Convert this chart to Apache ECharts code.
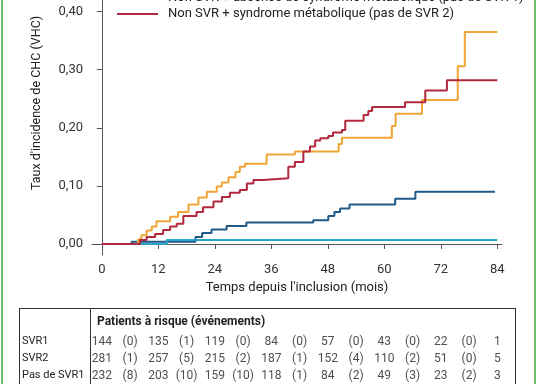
<!DOCTYPE html>
<html><head><meta charset="utf-8">
<script src="https://cdn.jsdelivr.net/npm/echarts@6/dist/echarts.min.js"></script>
<style>html,body{margin:0;padding:0;background:#fff}#c{width:538px;height:384px}</style>
</head><body><div id="c"></div><script>
// ---- data ----
const xTicks = [0, 12, 24, 36, 48, 60, 72, 84];
const yTicks = [0, 0.1, 0.2, 0.3, 0.4];
const svr1T = [0, 13.8, 84];
const svr1V = [0, 0.007, 0.007];
const svr2T = [0, 6.3, 19.9, 21.3, 23.3, 26.5, 30.7, 44.9, 48.1, 49.4, 50.6, 52.6, 62.3, 66.6, 83.5];
const svr2V = [0, 0.004, 0.012, 0.019, 0.025, 0.031, 0.037, 0.041, 0.048, 0.055, 0.061, 0.068, 0.078, 0.090, 0.090];
const pas1T = [0, 7.7, 8.4, 9.5, 10.6, 11.6, 14.5, 16.2, 18.4, 20.5, 22.3, 24.4, 25.5, 26.9, 28.4, 29.3, 30.4, 35.0, 41.0, 50.3, 51.0, 61.6, 62.4, 68.0, 75.6, 77.1, 84];
const pas1V = [0, 0.008, 0.015, 0.023, 0.030, 0.039, 0.047, 0.055, 0.068, 0.080, 0.090, 0.099, 0.106, 0.115, 0.124, 0.133, 0.138, 0.154, 0.159, 0.172, 0.183, 0.203, 0.224, 0.248, 0.306, 0.365, 0.365];
const pas2T = [0, 8.1, 9.5, 11.3, 13.0, 14.5, 15.9, 17.3, 20.1, 21.5, 23.7, 25.5, 27.2, 29.3, 30.8, 32.2, 34.3, 39.6, 41.0, 42.8, 44.2, 45.3, 46.4, 48.1, 49.1, 51.0, 51.7, 55.6, 56.6, 57.4, 64.4, 68.7, 73.3, 84];
const pas2V = [0, 0.007, 0.012, 0.017, 0.024, 0.030, 0.035, 0.048, 0.055, 0.063, 0.073, 0.081, 0.088, 0.093, 0.104, 0.110, 0.113, 0.133, 0.141, 0.159, 0.168, 0.178, 0.182, 0.186, 0.192, 0.196, 0.212, 0.222, 0.229, 0.236, 0.244, 0.264, 0.282, 0.282];

const tableRows = ['SVR1', 'SVR2', 'Pas de SVR1'];
const riskSVR1 = [144, 135, 119, 84, 57, 43, 22, 1];
const evtSVR1 = [0, 1, 0, 0, 0, 0, 0];
const riskSVR2 = [281, 257, 215, 187, 152, 110, 51, 5];
const evtSVR2 = [1, 5, 2, 1, 4, 2, 0];
const riskPas1 = [232, 203, 159, 118, 84, 49, 23, 3];
const evtPas1 = [8, 10, 10, 1, 2, 3, 2];

const nameSVR1 = 'SVR + absence de syndrome métabolique (SVR1)';
const nameSVR2 = 'SVR + syndrome métabolique (SVR2)';
const namePas1 = 'Non SVR + absence de syndrome métabolique (pas de SVR 1)';
const namePas2 = 'Non SVR + syndrome métabolique (pas de SVR 2)';

// ---- build ----
const FONT = 'Roboto';
const pairs = (T, V) => T.map((t, i) => [t, V[i]]);
function stepSeries(name, T, V, color, z) {
  return {
    name, type: 'line', step: 'end', xAxisIndex: 0, yAxisIndex: 0,
    data: pairs(T, V), symbol: 'none', z,
    lineStyle: { color, width: 2 }, itemStyle: { color }
  };
}
function tableSeries(row, risk, evt) {
  const data = [];
  risk.forEach((n, i) => data.push({ value: [xTicks[i], row], t: String(n) }));
  evt.forEach((n, i) => data.push({ value: [xTicks[i] + 6, row], t: '(' + n + ')' }));
  return {
    type: 'scatter', xAxisIndex: 1, yAxisIndex: 1, data,
    symbolSize: 1, itemStyle: { color: 'rgba(0,0,0,0)' }, silent: true,
    label: { show: true, position: 'inside', formatter: p => p.data.t,
      color: '#222', fontSize: 12, fontFamily: FONT }
  };
}

const chart = echarts.init(document.getElementById('c'));
chart.setOption({
  animation: false,
  backgroundColor: '#fff',
  textStyle: { fontFamily: FONT },
  grid: [
    { left: 92, right: 36, top: -2, height: 257 },
    { left: 92, right: 36, top: 333, height: 51 }
  ],
  legend: {
    data: [namePas1, namePas2], orient: 'vertical', left: 117, top: -10, padding: 0,
    icon: 'rect', itemWidth: 41, itemHeight: 2, itemGap: 0,
    textStyle: { fontSize: 13, color: '#222', fontFamily: FONT, lineHeight: 16, padding: [0, 0, 0, 5] }
  },
  xAxis: [
    { type: 'value', gridIndex: 0, min: -2.1, max: 85,
      name: "Temps depuis l'inclusion (mois)", nameLocation: 'middle', nameGap: 25,
      nameTextStyle: { fontSize: 13, color: '#222', fontFamily: FONT },
      axisLine: { lineStyle: { color: '#555', width: 1 } },
      axisTick: { customValues: xTicks, length: 5, lineStyle: { color: '#555' } },
      axisLabel: { customValues: xTicks, fontSize: 13, color: '#333', margin: 8, fontFamily: FONT },
      splitLine: { show: false } },
    { type: 'value', gridIndex: 1, min: -2.1, max: 85, show: false }
  ],
  yAxis: [
    { type: 'value', gridIndex: 0, min: -0.019, max: 0.42,
      axisLine: { show: true, lineStyle: { color: '#555', width: 1 } },
      axisTick: { show: true, customValues: yTicks, length: 5, lineStyle: { color: '#555' } },
      axisLabel: { customValues: yTicks, fontSize: 13, color: '#333', margin: 9, fontFamily: FONT,
        formatter: v => v.toFixed(2).replace('.', ',') },
      splitLine: { show: false } },
    { type: 'category', gridIndex: 1, data: tableRows, inverse: true,
      axisLine: { show: false }, axisTick: { show: false }, splitLine: { show: false },
      axisLabel: { align: 'left', margin: 70, fontSize: 11, color: '#222', fontFamily: FONT } }
  ],
  series: [
    stepSeries(nameSVR2, svr2T, svr2V, '#1f5a88', 2),
    stepSeries(nameSVR1, svr1T, svr1V, '#2ba3c9', 3),
    stepSeries(namePas1, pas1T, pas1V, '#f0a537', 4),
    stepSeries(namePas2, pas2T, pas2V, '#b3283c', 5),
    tableSeries('SVR1', riskSVR1, evtSVR1),
    tableSeries('SVR2', riskSVR2, evtSVR2),
    tableSeries('Pas de SVR1', riskPas1, evtPas1)
  ],
  graphic: [
    { type: 'text', x: 37, y: 103, rotation: Math.PI / 2,
      style: { text: "Taux d'incidence de CHC (VHC)", fontSize: 12.5, fill: '#222', fontFamily: FONT,
        align: 'center', verticalAlign: 'middle' } },
    { type: 'text', x: 97, y: 322,
      style: { text: 'Patients à risque (événements)', fontSize: 12, fontWeight: 'bold', fill: '#222',
        fontFamily: FONT, verticalAlign: 'middle' } },
    { type: 'line', shape: { x1: 19, y1: 308.5, x2: 516, y2: 308.5 }, style: { stroke: '#333', lineWidth: 1 } },
    { type: 'line', shape: { x1: 19.5, y1: 308, x2: 19.5, y2: 384 }, style: { stroke: '#333', lineWidth: 1 } },
    { type: 'line', shape: { x1: 90.5, y1: 308, x2: 90.5, y2: 384 }, style: { stroke: '#333', lineWidth: 1 } },
    { type: 'line', shape: { x1: 515.5, y1: 308, x2: 515.5, y2: 384 }, style: { stroke: '#333', lineWidth: 1 } },
    { type: 'line', shape: { x1: 2, y1: 0, x2: 2, y2: 384 }, style: { stroke: '#6cbf6a', lineWidth: 2 } },
    { type: 'line', shape: { x1: 535, y1: 0, x2: 535, y2: 384 }, style: { stroke: '#6cbf6a', lineWidth: 2 } }
  ]
});
</script></body></html>
